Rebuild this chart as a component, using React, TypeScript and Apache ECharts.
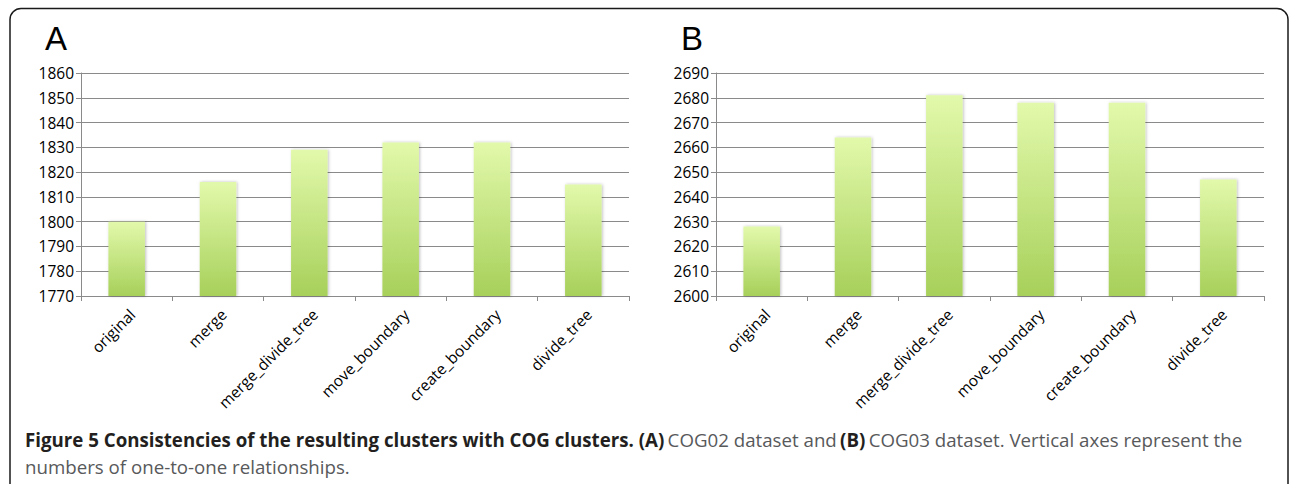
import React, { useEffect, useRef } from "react";
import * as echarts from "echarts";

const categories = [
  "original",
  "merge",
  "merge_divide_tree",
  "move_boundary",
  "create_boundary",
  "divide_tree",
];
const valuesA = [1800, 1816, 1829, 1832, 1832, 1815];
const valuesB = [2628, 2664, 2681, 2678, 2678, 2647];
const axisA = { min: 1770, max: 1860, interval: 10 };
const axisB = { min: 2600, max: 2690, interval: 10 };

const GRID_TOP = 73;
const GRID_H = 223;
const GRID_W = 548;
const GRID_LEFT_A = 81;
const GRID_LEFT_B = 716;

const gray = "#8a8a8a";
const labelFont = "'Open Sans', 'Noto Sans', sans-serif";

const barFill = new echarts.graphic.LinearGradient(0, 0, 0, 1, [
  { offset: 0, color: "#e2f9ab" },
  { offset: 1, color: "#a7d05a" },
]);

function xAxis(gridIndex: number) {
  return {
    type: "category",
    gridIndex,
    data: categories,
    boundaryGap: true,
    axisLine: { show: true, lineStyle: { color: gray, width: 1 } },
    axisTick: { show: true, length: 5, lineStyle: { color: gray } },
    axisLabel: {
      rotate: 45,
      interval: 0,
      margin: 10,
      verticalAlign: "top",
      color: "#000",
      fontSize: 15.5,
      fontFamily: labelFont,
    },
    splitLine: { show: false },
  };
}

function yAxis(gridIndex: number, r: { min: number; max: number; interval: number }) {
  return {
    type: "value",
    gridIndex,
    min: r.min,
    max: r.max,
    interval: r.interval,
    axisLine: { show: true, lineStyle: { color: gray, width: 1 } },
    axisTick: { show: true, length: 5, lineStyle: { color: gray } },
    axisLabel: {
      margin: 7,
      color: "#000",
      fontSize: 15.5,
      fontFamily: labelFont,
      formatter: (v: number) => String(v),
    },
    splitLine: { show: true, lineStyle: { color: gray, width: 1 } },
  };
}

function barSeries(idx: number, data: number[]) {
  return {
    type: "bar",
    xAxisIndex: idx,
    yAxisIndex: idx,
    data,
    barWidth: "40%",
    itemStyle: {
      color: barFill,
      shadowBlur: 3,
      shadowColor: "rgba(0,0,0,0.25)",
      shadowOffsetX: 1,
      shadowOffsetY: 0,
    },
  };
}

export default function App() {
  const ref = useRef<HTMLDivElement>(null);

  useEffect(() => {
    if (!ref.current) return;
    const chart = echarts.init(ref.current, null, { renderer: "svg" });
    chart.setOption({
      animation: false,
      backgroundColor: "#fff",
      grid: [
        { left: GRID_LEFT_A, top: GRID_TOP, width: GRID_W, height: GRID_H },
        { left: GRID_LEFT_B, top: GRID_TOP, width: GRID_W, height: GRID_H },
      ],
      xAxis: [xAxis(0), xAxis(1)],
      yAxis: [yAxis(0, axisA), yAxis(1, axisB)],
      series: [barSeries(0, valuesA), barSeries(1, valuesB)],
      graphic: [
        {
          type: "rect",
          shape: { x: 10, y: 8.5, width: 1278, height: 520, r: 11 },
          style: { fill: "none", stroke: "#1a1a1a", lineWidth: 1.5 },
          silent: true,
          z: 0,
        },
        {
          type: "text",
          x: 45,
          y: 22,
          style: {
            text: "A",
            font: "33px 'Liberation Sans', Arial, sans-serif",
            fill: "#000",
          },
        },
        {
          type: "text",
          x: 681,
          y: 22,
          style: {
            text: "B",
            font: "33px 'Liberation Sans', Arial, sans-serif",
            fill: "#000",
          },
        },
        {
          type: "text",
          x: 25,
          y: 426,
          style: {
            text:
              "{b|Figure 5 Consistencies of the resulting clusters with COG clusters. (A)} {n|COG02 dataset and} {b|(B)} {n|COG03 dataset. Vertical axes represent the}\n{n|numbers of one-to-one relationships.}",
            lineHeight: 27,
            rich: {
              b: {
                fontFamily: labelFont,
                fontWeight: "bold",
                fontSize: 18.7,
                fill: "#231f20",
                lineHeight: 27,
              },
              n: {
                fontFamily: labelFont,
                fontSize: 18.7,
                fill: "#58595b",
                lineHeight: 27,
              },
            },
          },
        },
      ],
    });
    return () => chart.dispose();
  }, []);

  return (
    <div
      ref={ref}
      style={{ position: "absolute", left: 0, top: 0, width: 1290, height: 484 }}
    />
  );
}
